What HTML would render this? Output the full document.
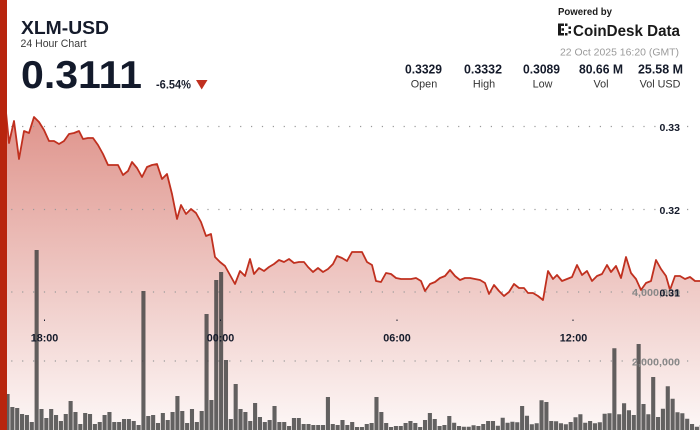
<!DOCTYPE html>
<html>
<head>
<meta charset="utf-8">
<style>
  html,body{margin:0;padding:0;background:#fff;}
  svg{display:block;}
  text{font-family:"Liberation Sans", Arial, sans-serif;}
</style>
</head>
<body>
<svg width="700" height="430" viewBox="0 0 700 430" xmlns="http://www.w3.org/2000/svg">
  <defs>
    <linearGradient id="fillg" gradientUnits="userSpaceOnUse" x1="0" y1="100" x2="0" y2="430">
      <stop offset="0" stop-color="rgb(195,55,40)" stop-opacity="0.56"/>
      <stop offset="1" stop-color="rgb(195,55,40)" stop-opacity="0.04"/>
    </linearGradient>
  </defs>
  <rect x="0" y="0" width="700" height="430" fill="#fff"/>

  <text x="21" y="34" font-size="18.5" font-weight="bold" fill="#151b2b" textLength="88" lengthAdjust="spacingAndGlyphs">XLM-USD</text>
  <text x="20.5" y="47" font-size="10.8" fill="#3a3a3a" textLength="66" lengthAdjust="spacingAndGlyphs">24 Hour Chart</text>
  <text x="21" y="88" font-size="39" font-weight="bold" fill="#131a2b" textLength="121" lengthAdjust="spacingAndGlyphs">0.3111</text>
  <text x="156" y="88.3" font-size="11.5" font-weight="bold" fill="#1a1f2e" textLength="35" lengthAdjust="spacingAndGlyphs">-6.54%</text>
  <polygon points="196,80 207.5,80 201.7,89.5" fill="#c0301f"/>

  <text x="558" y="15" font-size="9.8" font-weight="bold" fill="#1a1a1a" textLength="54" lengthAdjust="spacingAndGlyphs">Powered by</text>
  <path fill="#1a1a1a" d="M558 23.5h6v2.5h-3v7h3v2.5h-6z M565 23.5h2.5v2.5h-2.5z M565 33h2.5v2.5h-2.5z M561.5 28.3h2.5v2.5h-2.5z M568.5 26.5h2.5v2.5h-2.5z M568.5 31h2.5v2.5h-2.5z"/>
  <text x="573" y="36" font-size="15.5" font-weight="bold" fill="#1a1a1a" textLength="107" lengthAdjust="spacingAndGlyphs">CoinDesk Data</text>
  <text x="560" y="55.5" font-size="10.5" fill="#9a9a9a" textLength="119" lengthAdjust="spacingAndGlyphs">22 Oct 2025 16:20 (GMT)</text>

  <g font-size="12.5" font-weight="bold" fill="#151b2b" text-anchor="middle">
    <text x="423.5" y="73.3" textLength="37" lengthAdjust="spacingAndGlyphs">0.3329</text>
    <text x="483" y="73.3" textLength="38" lengthAdjust="spacingAndGlyphs">0.3332</text>
    <text x="541.5" y="73.3" textLength="37" lengthAdjust="spacingAndGlyphs">0.3089</text>
    <text x="601" y="73.3" textLength="44" lengthAdjust="spacingAndGlyphs">80.66 M</text>
    <text x="660.5" y="73.3" textLength="45" lengthAdjust="spacingAndGlyphs">25.58 M</text>
  </g>
  <g font-size="10.8" fill="#333" text-anchor="middle">
    <text x="424" y="87.5">Open</text>
    <text x="484" y="87.5">High</text>
    <text x="542.5" y="87.5">Low</text>
    <text x="601" y="87.5">Vol</text>
    <text x="660" y="87.5">Vol USD</text>
  </g>

  <path fill="url(#fillg)" d="M5,102 L9,143 L14,121 L19,159 L24,131 L29,133 L34,117 L39,122 L44,130 L49,141 L54,141 L59,144 L64,141 L69,134 L74,133 L79,131 L83,139 L88,138 L93,138 L98,145 L103,154 L108,165 L113,165 L118,165 L123,175 L128,171 L132,162 L137,168 L142,177 L147,167 L152,165 L157,164 L162,179 L167,174 L172,194 L177,219 L181,205 L186,214 L191,209 L196,213 L201,222 L206,236 L211,234 L215,257 L220,262 L225,266 L230,275 L235,284 L240,271 L245,276 L250,259 L254,274 L259,268 L264,271 L269,267 L274,264 L279,260 L284,262 L289,259 L294,263 L299,262 L304,262 L308,267 L313,272 L318,268 L323,272 L328,269 L333,264 L337,256 L342,258 L347,261 L352,252 L357,252 L362,252 L367,262 L372,265 L376,281 L381,282 L386,273 L391,274 L396,278 L401,279 L406,279 L411,279 L416,278 L421,281 L425,291 L430,284 L435,282 L440,278 L445,276 L450,270 L455,276 L460,280 L465,278 L470,278 L475,279 L480,280 L485,283 L489,294 L494,285 L499,291 L504,296 L509,292 L514,284 L519,288 L524,288 L528,293 L533,293 L538,296 L543,300 L548,271 L553,279 L557,275 L562,281 L567,279 L572,277 L577,265 L582,275 L587,271 L592,281 L597,276 L602,274 L607,265 L611,272 L616,266 L621,278 L626,257 L631,273 L636,279 L641,290 L646,283 L651,281 L656,260 L661,269 L666,276 L670,290 L675,276 L680,276 L685,279 L690,277 L695,281 L700,281 L700,430 L5,430 Z"/>

  <g stroke="#9a9a9a" stroke-width="1.2" stroke-dasharray="1.2 9.7">
    <line x1="11.2" y1="126.5" x2="692" y2="126.5"/>
    <line x1="11.2" y1="209.5" x2="692" y2="209.5"/>
    <line x1="11.2" y1="292" x2="692" y2="292"/>
    <line x1="11.2" y1="361" x2="692" y2="361"/>
  </g>

  <path fill="rgba(60,60,60,0.8)" d="M5.5 430v-36h4.1v36z
M10.3 430v-23h4.1v23zm4.855 0v-22h4.1v22zm4.855 0v-16h4.1v16zm4.855 0v-15h4.1v15zm4.855 0v-8h4.1v8zm4.855 0v-180h4.1v180zm4.855 0v-21h4.1v21zm4.855 0v-12h4.1v12zm4.855 0v-21h4.1v21zm4.855 0v-15h4.1v15z
m4.855 0v-9h4.1v9zm4.855 0v-16h4.1v16zm4.855 0v-29h4.1v29zm4.855 0v-18h4.1v18zm4.855 0v-6h4.1v6zm4.855 0v-17h4.1v17zm4.855 0v-16h4.1v16zm4.855 0v-6h4.1v6zm4.855 0v-8h4.1v8zm4.855 0v-15h4.1v15z
m4.855 0v-18h4.1v18zm4.855 0v-8h4.1v8zm4.855 0v-8h4.1v8zm4.855 0v-11h4.1v11zm4.855 0v-11h4.1v11zm4.855 0v-9h4.1v9zm4.855 0v-5h4.1v5zm4.855 0v-139h4.1v139zm4.855 0v-14h4.1v14zm4.855 0v-15h4.1v15z
m4.855 0v-7h4.1v7zm4.855 0v-17h4.1v17zm4.855 0v-10h4.1v10zm4.855 0v-18h4.1v18zm4.855 0v-34h4.1v34zm4.855 0v-19h4.1v19zm4.855 0v-7h4.1v7zm4.855 0v-21h4.1v21zm4.855 0v-8h4.1v8zm4.855 0v-19h4.1v19z
m4.855 0v-116h4.1v116zm4.855 0v-30h4.1v30zm4.855 0v-150h4.1v150zm4.855 0v-158h4.1v158zm4.855 0v-70h4.1v70zm4.855 0v-11h4.1v11zm4.855 0v-46h4.1v46zm4.855 0v-21h4.1v21zm4.855 0v-18h4.1v18zm4.855 0v-9h4.1v9z
m4.855 0v-27h4.1v27zm4.855 0v-13h4.1v13zm4.855 0v-8h4.1v8zm4.855 0v-10h4.1v10zm4.855 0v-24h4.1v24zm4.855 0v-8h4.1v8zm4.855 0v-8h4.1v8zm4.855 0v-4h4.1v4zm4.855 0v-12h4.1v12zm4.855 0v-12h4.1v12z
m4.855 0v-6h4.1v6zm4.855 0v-6h4.1v6zm4.855 0v-5h4.1v5zm4.855 0v-5h4.1v5zm4.855 0v-5h4.1v5zm4.855 0v-33h4.1v33zm4.855 0v-6h4.1v6zm4.855 0v-5h4.1v5zm4.855 0v-10h4.1v10zm4.855 0v-5h4.1v5z
m4.855 0v-8h4.1v8zm4.855 0v-3h4.1v3zm4.855 0v-3h4.1v3zm4.855 0v-6h4.1v6zm4.855 0v-7h4.1v7zm4.855 0v-33h4.1v33zm4.855 0v-18h4.1v18zm4.855 0v-7h4.1v7zm4.855 0v-3h4.1v3zm4.855 0v-4h4.1v4z
m4.855 0v-4h4.1v4zm4.855 0v-7h4.1v7zm4.855 0v-9h4.1v9zm4.855 0v-7h4.1v7zm4.855 0v-3h4.1v3zm4.855 0v-10h4.1v10zm4.855 0v-17h4.1v17zm4.855 0v-11h4.1v11zm4.855 0v-4h4.1v4zm4.855 0v-5h4.1v5z
m4.855 0v-14h4.1v14zm4.855 0v-7.3h4.1v7.3zm4.855 0v-4h4.1v4zm4.855 0v-3.3h4.1v3.3zm4.855 0v-3.3h4.1v3.3zm4.855 0v-4.7h4.1v4.7zm4.855 0v-4h4.1v4zm4.855 0v-6h4.1v6zm4.855 0v-9h4.1v9zm4.855 0v-9h4.1v9z
m4.855 0v-4.3h4.1v4.3zm4.855 0v-12.3h4.1v12.3zm4.855 0v-7.3h4.1v7.3zm4.855 0v-8.3h4.1v8.3zm4.855 0v-7.7h4.1v7.7zm4.855 0v-24h4.1v24zm4.855 0v-14.3h4.1v14.3zm4.855 0v-5.7h4.1v5.7zm4.855 0v-6.7h4.1v6.7zm4.855 0v-29.7h4.1v29.7z
m4.855 0v-28h4.1v28zm4.855 0v-9h4.1v9zm4.855 0v-8.7h4.1v8.7zm4.855 0v-6.7h4.1v6.7zm4.855 0v-5.7h4.1v5.7zm4.855 0v-8h4.1v8zm4.855 0v-12.7h4.1v12.7zm4.855 0v-15.7h4.1v15.7zm4.855 0v-7.3h4.1v7.3zm4.855 0v-9h4.1v9z
m4.855 0v-6.7h4.1v6.7zm4.855 0v-7.7h4.1v7.7zm4.855 0v-16.3h4.1v16.3zm4.855 0v-16.7h4.1v16.7zm4.855 0v-81.7h4.1v81.7zm4.855 0v-15.7h4.1v15.7zm4.855 0v-26.7h4.1v26.7zm4.855 0v-19.7h4.1v19.7zm4.855 0v-15h4.1v15zm4.855 0v-86h4.1v86z
m4.855 0v-26h4.1v26zm4.855 0v-15.7h4.1v15.7zm4.855 0v-53h4.1v53zm4.855 0v-13h4.1v13zm4.855 0v-21.3h4.1v21.3zm4.855 0v-43.7h4.1v43.7zm4.855 0v-31.3h4.1v31.3zm4.855 0v-17.7h4.1v17.7zm4.855 0v-16.7h4.1v16.7zm4.855 0v-11.3h4.1v11.3z
m4.855 0v-6h4.1v6zm4.855 0v-3.3h4.1v3.3zm4.855 0v-5h4.1v5z"/>

  <polyline fill="none" stroke="#c0301f" stroke-width="1.8" stroke-linejoin="round" points="5,102 9,143 14,121 19,159 24,131 29,133 34,117 39,122 44,130 49,141 54,141 59,144 64,141 69,134 74,133 79,131 83,139 88,138 93,138 98,145 103,154 108,165 113,165 118,165 123,175 128,171 132,162 137,168 142,177 147,167 152,165 157,164 162,179 167,174 172,194 177,219 181,205 186,214 191,209 196,213 201,222 206,236 211,234 215,257 220,262 225,266 230,275 235,284 240,271 245,276 250,259 254,274 259,268 264,271 269,267 274,264 279,260 284,262 289,259 294,263 299,262 304,262 308,267 313,272 318,268 323,272 328,269 333,264 337,256 342,258 347,261 352,252 357,252 362,252 367,262 372,265 376,281 381,282 386,273 391,274 396,278 401,279 406,279 411,279 416,278 421,281 425,291 430,284 435,282 440,278 445,276 450,270 455,276 460,280 465,278 470,278 475,279 480,280 485,283 489,294 494,285 499,291 504,296 509,292 514,284 519,288 524,288 528,293 533,293 538,296 543,300 548,271 553,279 557,275 562,281 567,279 572,277 577,265 582,275 587,271 592,281 597,276 602,274 607,265 611,272 616,266 621,278 626,257 631,273 636,279 641,290 646,283 651,281 656,260 661,269 666,276 670,290 675,276 680,276 685,279 690,277 695,281 700,281"/>

  <rect x="657" y="121" width="25" height="11" fill="#fff"/>
  <rect x="657" y="204" width="25" height="11" fill="#fff"/>
  <g font-size="10.5" font-weight="bold" fill="#888" text-anchor="end">
    <text x="680" y="296" textLength="48" lengthAdjust="spacingAndGlyphs">4,000,000</text>
    <text x="680" y="365.5" textLength="48" lengthAdjust="spacingAndGlyphs">2,000,000</text>
  </g>
  <g font-size="10.5" font-weight="bold" fill="#151b2b" text-anchor="end">
    <text x="680" y="131" textLength="20.5" lengthAdjust="spacingAndGlyphs">0.33</text>
    <text x="680" y="214" textLength="20.5" lengthAdjust="spacingAndGlyphs">0.32</text>
    <text x="680" y="296.5" textLength="20.5" lengthAdjust="spacingAndGlyphs">0.31</text>
  </g>

  <path fill="#151b2b" d="M44 319.5h1v1.5h-1z M220 319.5h1v1.5h-1z M396.5 319.5h1v1.5h-1z M572.5 319.5h1v1.5h-1z"/>
  <g font-size="10.8" font-weight="bold" fill="#151b2b" text-anchor="middle">
    <text x="44.5" y="341.3">18:00</text>
    <text x="220.5" y="341.3">00:00</text>
    <text x="397" y="341.3">06:00</text>
    <text x="573.5" y="341.3">12:00</text>
  </g>

  <rect x="0" y="0" width="7" height="430" fill="#b8250e"/>
</svg>
</body>
</html>
